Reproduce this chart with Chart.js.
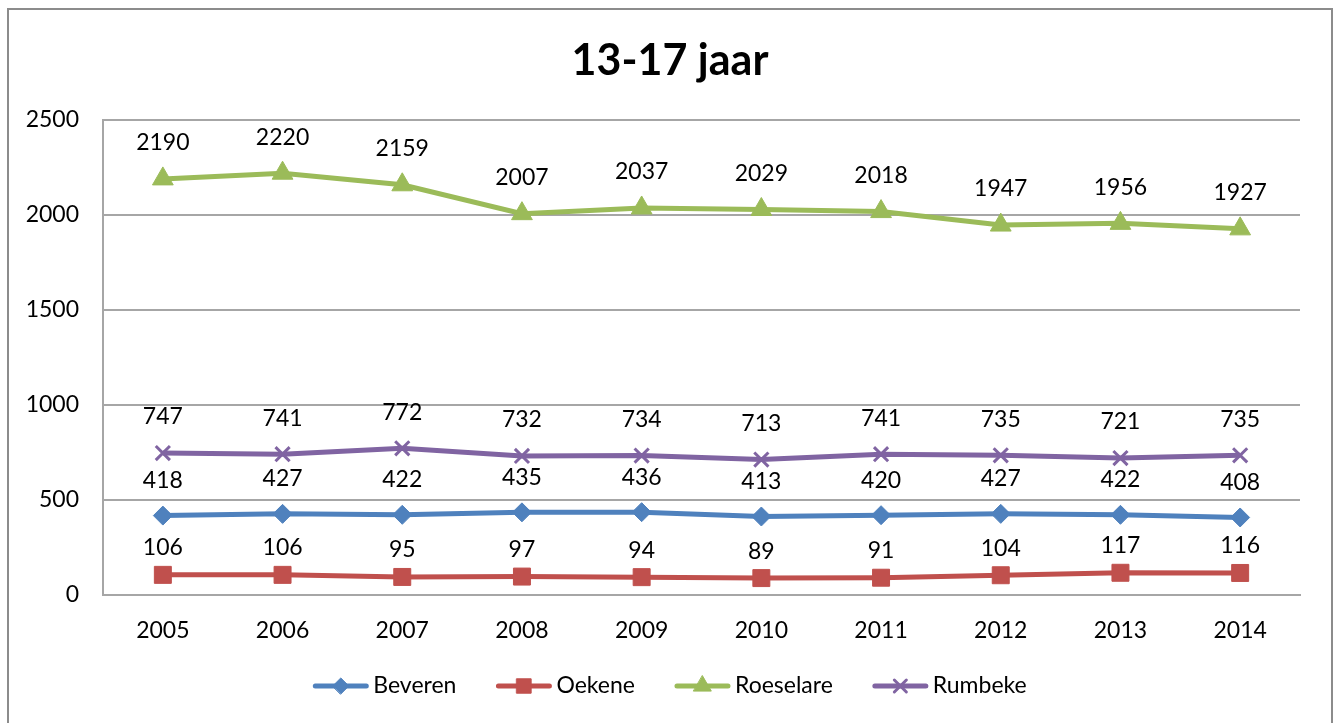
<!DOCTYPE html>
<html>
<head>
<meta charset="utf-8">
<script src="https://cdn.jsdelivr.net/npm/chart.js@4.4.0/dist/chart.umd.min.js"></script>
<style>
  html, body { margin: 0; padding: 0; background: #fff; overflow: hidden; }
  #wrap {
    position: absolute; left: 7px; top: 8px;
    width: 1322px; height: 720px;
    border: 2px solid #8c8c8c;
  }
  #chart { display: block; }
</style>
</head>
<body>
<div id="wrap"><canvas id="chart" width="1322" height="720"></canvas></div>
<script>
// data
const titel = '13-17 jaar';
const jaren = ['2005', '2006', '2007', '2008', '2009', '2010', '2011', '2012', '2013', '2014'];
const beveren = [418, 427, 422, 435, 436, 413, 420, 427, 422, 408];
const oekene = [106, 106, 95, 97, 94, 89, 91, 104, 117, 116];
const roeselare = [2190, 2220, 2159, 2007, 2037, 2029, 2018, 1947, 1956, 1927];
const rumbeke = [747, 741, 772, 732, 734, 713, 741, 735, 721, 735];
const yTicks = [0, 500, 1000, 1500, 2000, 2500];

const FONT = 'Lato, "Open Sans", sans-serif';
const grijs = '#a6a6a6';

// labels boven de punten
const waardeLabels = {
    id: 'waardeLabels',
    afterDatasetsDraw(chart) {
        const ctx = chart.ctx;
        ctx.save();
        ctx.font = '23px ' + FONT;
        ctx.fillStyle = '#000';
        ctx.textAlign = 'center';
        ctx.textBaseline = 'middle';
        chart.data.datasets.forEach((ds, i) => {
            const meta = chart.getDatasetMeta(i);
            meta.data.forEach((pt, j) => {
                ctx.fillText(String(ds.data[j]), pt.x, pt.y - ds.labelOffset);
            });
        });
        ctx.restore();
    }
};

// titel (gecentreerd op het hele canvas) en legende onderaan
const titelEnLegende = {
    id: 'titelEnLegende',
    afterDraw(chart) {
        const ctx = chart.ctx;
        ctx.save();
        ctx.fillStyle = '#000';
        ctx.textAlign = 'center';
        ctx.textBaseline = 'middle';
        ctx.font = 'bold 43px ' + FONT;
        ctx.fillText(titel, chart.width / 2, 51);

        const lineLen = 55, gapTxt = 5, gapItem = 40;
        const y = 676;
        ctx.font = '23px ' + FONT;
        const items = chart.data.datasets.map(ds => ({ ds: ds, w: ctx.measureText(ds.label).width }));
        let total = 0;
        items.forEach((it, i) => { total += lineLen + gapTxt + it.w + (i < items.length - 1 ? gapItem : 0); });
        let x = chart.width / 2 - total / 2;
        items.forEach(it => {
            const ds = it.ds;
            ctx.strokeStyle = ds.borderColor;
            ctx.lineWidth = ds.borderWidth;
            ctx.lineCap = 'round';
            ctx.beginPath();
            ctx.moveTo(x + 2, y);
            ctx.lineTo(x + lineLen - 2, y);
            ctx.stroke();
            ctx.fillStyle = ds.pointBackgroundColor;
            ctx.strokeStyle = ds.pointBorderColor;
            ctx.lineWidth = ds.pointBorderWidth;
            Chart.helpers.drawPoint(ctx, { pointStyle: ds.pointStyle, radius: ds.pointRadius * 0.85, borderWidth: ds.pointBorderWidth }, x + lineLen / 2, y);
            ctx.fillStyle = '#000';
            ctx.textAlign = 'left';
            ctx.fillText(ds.label, x + lineLen + gapTxt, y);
            x += lineLen + gapTxt + it.w + gapItem;
        });
        ctx.restore();
    }
};

function reeks(label, data, kleur, stijl, radius, offset) {
    return {
        label: label,
        data: data,
        borderColor: kleur,
        backgroundColor: kleur,
        borderWidth: 5,
        pointStyle: stijl,
        pointRadius: radius,
        pointHoverRadius: radius,
        pointBackgroundColor: kleur,
        pointBorderColor: kleur,
        pointBorderWidth: stijl === 'crossRot' ? 3 : 1,
        tension: 0,
        labelOffset: offset
    };
}

const ctx = document.getElementById('chart').getContext('2d');
new Chart(ctx, {
    type: 'line',
    data: {
        labels: jaren,
        datasets: [
            reeks('Beveren', beveren, '#4f81bd', 'rectRot', 9.5, 35),
            reeks('Oekene', oekene, '#c0504d', 'rect', 12, 27),
            reeks('Roeselare', roeselare, '#9bbb59', 'triangle', 12, 36),
            reeks('Rumbeke', rumbeke, '#8064a2', 'crossRot', 10, 36)
        ]
    },
    options: {
        responsive: false,
        animation: false,
        events: [],
        layout: { padding: { left: 0, right: 31, top: 110, bottom: 75 } },
        plugins: {
            legend: { display: false },
            tooltip: { enabled: false },
            title: { display: false }
        },
        scales: {
            x: {
                offset: true,
                grid: { display: false },
                border: { display: true, color: grijs, width: 2 },
                ticks: { color: '#000', font: { family: FONT, size: 23 }, padding: 14, maxRotation: 0 },
                afterFit: s => { s.height = 60; }
            },
            y: {
                min: 0,
                max: 2500,
                afterBuildTicks: s => { s.ticks = yTicks.map(v => ({ value: v })); },
                grid: { color: grijs, lineWidth: 2, drawTicks: false },
                border: { display: true, color: grijs, width: 2 },
                ticks: { color: '#000', font: { family: FONT, size: 23 }, padding: 24, callback: v => String(v) },
                afterFit: s => { s.width = 94; }
            }
        }
    },
    plugins: [waardeLabels, titelEnLegende]
});
</script>
</body>
</html>
